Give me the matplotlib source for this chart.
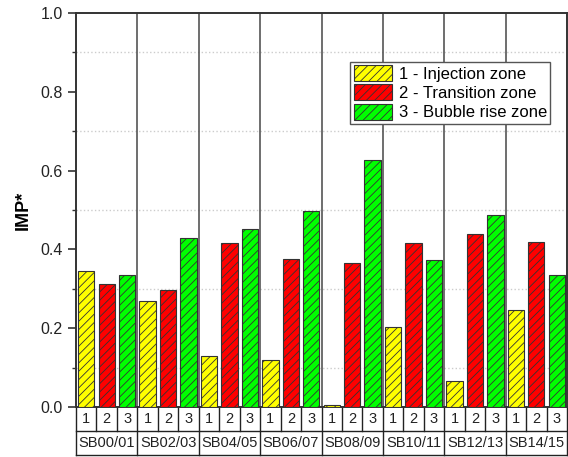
import numpy as np
import matplotlib
matplotlib.use("Agg")
import matplotlib.pyplot as plt
from matplotlib.patches import Patch
from matplotlib.transforms import blended_transform_factory
from matplotlib.ticker import MultipleLocator

plt.rcParams['font.family'] = ['Liberation Sans', 'DejaVu Sans']
plt.rcParams['hatch.linewidth'] = 0.6
plt.rcParams['hatch.color'] = '#222222'

# datos
grupos = ["SB00/01", "SB02/03", "SB04/05", "SB06/07",
          "SB08/09", "SB10/11", "SB12/13", "SB14/15"]
zonas = ["1", "2", "3"]
etiquetas = ["1 - Injection zone", "2 - Transition zone", "3 - Bubble rise zone"]
inyeccion = [0.346, 0.269, 0.130, 0.120, 0.005, 0.203, 0.065, 0.245]
transicion = [0.313, 0.297, 0.415, 0.376, 0.365, 0.415, 0.440, 0.419]
burbuja = [0.335, 0.429, 0.451, 0.497, 0.626, 0.374, 0.488, 0.334]
colores = ["#FFFF00", "#FF0000", "#00FF00"]

fig = plt.figure(figsize=(5.68, 4.57), dpi=100)
ax = fig.add_axes([76/568, 50/457, 491/568, 394/457])

n = len(grupos)
series = [inyeccion, transicion, burbuja]
for j, vals in enumerate(series):
    x = np.arange(n) * 3 + j
    ax.bar(x, vals, width=0.8, color=colores[j], edgecolor='#333333',
           linewidth=0.8, hatch='////', zorder=3)

ax.set_xlim(-0.5, 3 * n - 0.5)
ax.set_ylim(0, 1.0)
ax.yaxis.set_major_locator(MultipleLocator(0.2))
ax.yaxis.set_minor_locator(MultipleLocator(0.1))
ax.yaxis.set_major_formatter(plt.FuncFormatter(lambda v, p: f"{v:.1f}"))
ax.tick_params(axis='y', which='major', direction='out', length=6, width=1.2,
               labelsize=11.5, colors='#333333', labelcolor='#222222')
ax.tick_params(axis='y', which='minor', direction='out', length=3, width=1.0,
               colors='#333333')
ax.tick_params(axis='x', bottom=False, labelbottom=False)
ax.grid(True, axis='y', which='minor', linestyle=':', color='#cccccc', lw=1.0, zorder=0)
for s in ax.spines.values():
    s.set_color('#333333')
    s.set_linewidth(1.4)

ax.set_ylabel("IMP*", fontsize=13, fontweight='bold', labelpad=6)

# separadores verticales entre grupos
for g in range(1, n):
    ax.axvline(g * 3 - 0.5, color='#555555', lw=1.2, zorder=2)

# tabla inferior con zonas y grupos
tr = blended_transform_factory(ax.transData, ax.transAxes)
h = 24 / 394
lk = dict(transform=tr, clip_on=False, color='#222222', lw=1.0)
ax.plot([-0.5, 3 * n - 0.5], [-h, -h], **lk)
ax.plot([-0.5, 3 * n - 0.5], [-2 * h, -2 * h], **lk)
for k in range(3 * n + 1):
    x0 = k - 0.5
    y1 = -2 * h if k % 3 == 0 else -h
    ax.plot([x0, x0], [0, y1], **lk)
for g in range(n):
    for j in range(3):
        ax.text(g * 3 + j, -h / 2, zonas[j], transform=tr, ha='center',
                va='center', fontsize=10.5, color='#222222')
    ax.text(g * 3 + 1, -1.5 * h, grupos[g], transform=tr, ha='center',
            va='center', fontsize=10.5, color='#222222')

handles = [Patch(facecolor=colores[j], edgecolor='#333333', hatch='////',
                 linewidth=0.8) for j in range(3)]
leg = ax.legend(handles, etiquetas, loc='upper left',
                bbox_to_anchor=(0.559, 0.876), fontsize=12, fancybox=False,
                edgecolor='#555555', framealpha=1, handlelength=2.3,
                handleheight=1.1, labelspacing=0.15, handletextpad=0.4,
                borderpad=0.2, borderaxespad=0)
leg.get_frame().set_linewidth(1.0)
leg.set_zorder(5)

fig.savefig("out.png", dpi=100)
